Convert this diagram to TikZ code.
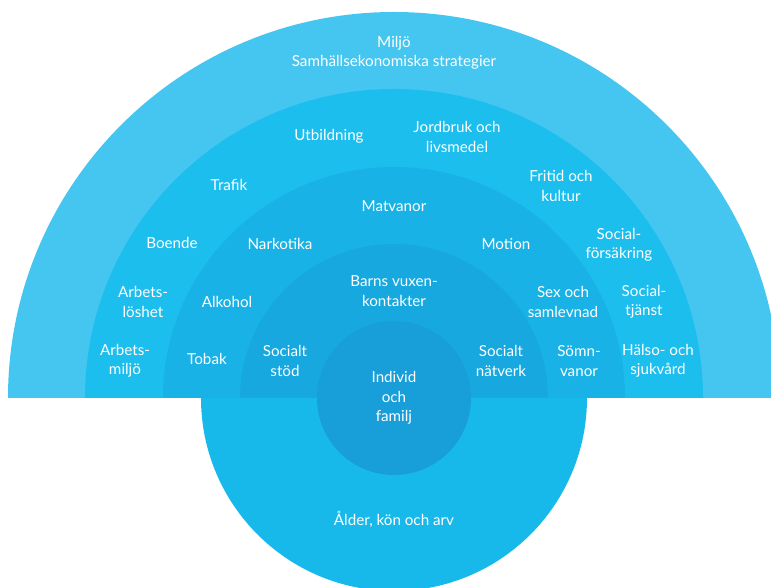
\documentclass[tikz,border=0pt]{standalone}
\usepackage{fontspec}
\setmainfont{Lato}
\definecolor{RingOut}{HTML}{45C6F0}
\definecolor{RingTwo}{HTML}{1CBEEE}
\definecolor{RingThree}{HTML}{18B2E6}
\definecolor{RingFour}{HTML}{16A8DF}
\definecolor{BaseDisk}{HTML}{17B9EB}
\definecolor{CoreDisk}{HTML}{189ED9}
\newcommand\HalfRing[2]{%
    \fill[#2] (-#1,0) arc (180:0:#1pt) -- cycle;
}

\begin{document}
\begin{tikzpicture}[x=1pt,y=1pt,
    lbl/.style={text=white,align=center,font=\fontsize{15.2}{19.5}\selectfont}]
    \clip (-394,-190) rectangle (377,398);
    % rings, outside in
    \HalfRing{386}{RingOut}
    \HalfRing{309}{RingTwo}
    \HalfRing{231}{RingThree}
    \HalfRing{154}{RingFour}
    \fill[BaseDisk] (-193,0) arc (180:360:193pt) -- cycle;
    \fill[CoreDisk] (0,0) circle (77pt);
    % outer ring
    \node[lbl] (miljo) at (0,345) {Miljö\\Samhällsekonomiska strategier};
    % second ring
    \node[lbl] (utb) at (-65,262) {Utbildning};
    \node[lbl] (jord) at (63,261) {Jordbruk och\\livsmedel};
    \node[lbl] (trafik) at (-165,213) {Trafik};
    \node[lbl] (fritid) at (167,212) {Fritid och\\kultur};
    \node[lbl] (boende) at (-222,155) {Boende};
    \node[lbl] (forsak) at (225,153) {Social-\\försäkring};
    \node[lbl] (losh) at (-251,96) {Arbets-\\löshet};
    \node[lbl] (tjanst) at (250,96) {Social-\\tjänst};
    \node[lbl] (amiljo) at (-269,37) {Arbets-\\miljö};
    \node[lbl] (halso) at (264,37) {Hälso- och\\sjukvård};
    % third ring
    \node[lbl] (mat) at (0,192) {Matvanor};
    \node[lbl] (nark) at (-114,154) {Narkotika};
    \node[lbl] (motion) at (112,154) {Motion};
    \node[lbl] (alk) at (-167,96) {Alkohol};
    \node[lbl] (sex) at (169,96) {Sex och\\samlevnad};
    \node[lbl] (tobak) at (-187,39) {Tobak};
    \node[lbl] (somn) at (185,37) {Sömn-\\vanor};
    % fourth ring
    \node[lbl] (barn) at (0,107) {Barns vuxen-\\kontakter};
    \node[lbl] (stod) at (-109,37) {Socialt\\stöd};
    \node[lbl] (natv) at (107,37) {Socialt\\nätverk};
    % core and base
    \node[lbl] (indiv) at (0,0) {Individ\\och\\familj};
    \node[lbl] (alder) at (0,-121) {Ålder, kön och arv};
\end{tikzpicture}
\end{document}
